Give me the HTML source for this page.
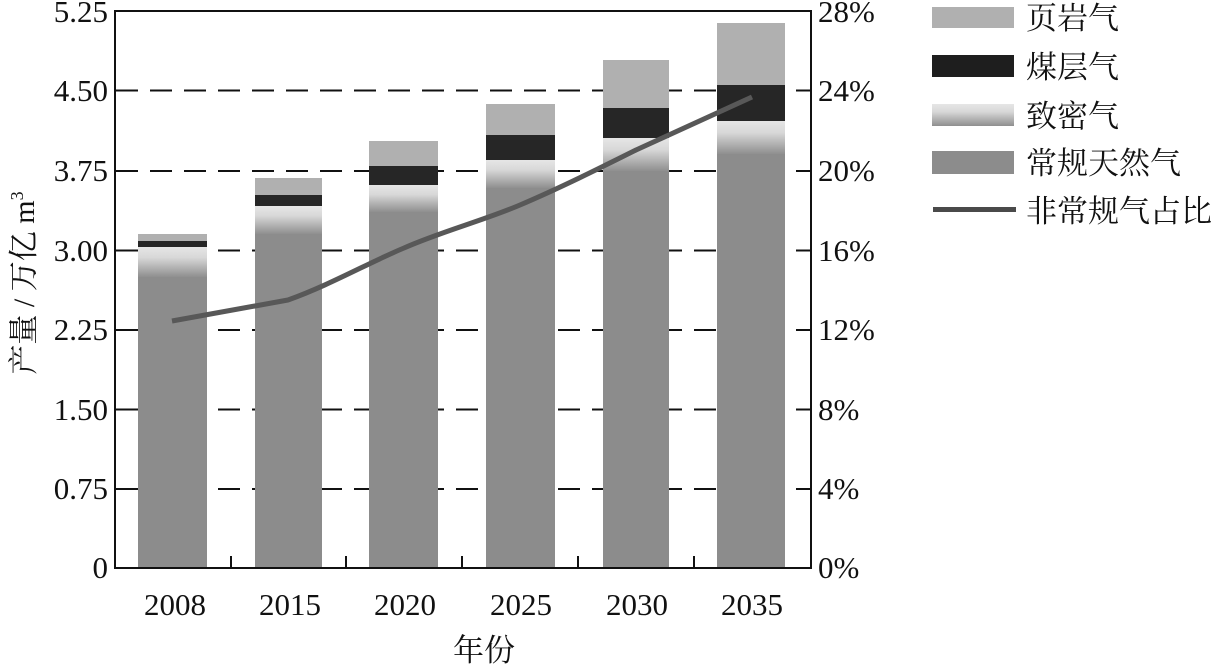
<!DOCTYPE html>
<html><head><meta charset="utf-8"><style>
html,body{margin:0;padding:0;background:#fff}
svg{display:block}
text{font-family:"Liberation Serif","Noto Serif CJK SC","Noto Sans CJK SC",serif;fill:#111}
</style></head><body>
<svg width="1217" height="665" viewBox="0 0 1217 665" xmlns="http://www.w3.org/2000/svg">
<defs>
<linearGradient id="tg" x1="0" y1="0" x2="0" y2="1">
<stop offset="0" stop-color="#e6e6e6"/><stop offset="0.35" stop-color="#d8d8d8"/><stop offset="1" stop-color="#8f8f8f"/>
</linearGradient>
</defs>
<g stroke="#111" stroke-width="2" stroke-dasharray="22,12">
<line x1="116" y1="90.5" x2="811" y2="90.5"/>
<line x1="116" y1="171" x2="811" y2="171"/>
<line x1="116" y1="250.5" x2="811" y2="250.5"/>
<line x1="116" y1="330" x2="811" y2="330"/>
<line x1="116" y1="409.5" x2="811" y2="409.5"/>
<line x1="116" y1="489" x2="811" y2="489"/>
</g>
<g>
<rect x="138" y="247" width="69" height="321" fill="#8c8c8c"/>
<rect x="138" y="247" width="69" height="30" fill="url(#tg)"/>
<rect x="138" y="241" width="69" height="6" fill="#262626"/>
<rect x="138" y="234" width="69" height="7" fill="#b0b0b0"/>
<rect x="255" y="206" width="67" height="362" fill="#8c8c8c"/>
<rect x="255" y="206" width="67" height="28" fill="url(#tg)"/>
<rect x="255" y="195" width="67" height="11" fill="#262626"/>
<rect x="255" y="178" width="67" height="17" fill="#b0b0b0"/>
<rect x="369" y="185" width="69" height="383" fill="#8c8c8c"/>
<rect x="369" y="185" width="69" height="27" fill="url(#tg)"/>
<rect x="369" y="166" width="69" height="19" fill="#262626"/>
<rect x="369" y="141" width="69" height="25" fill="#b0b0b0"/>
<rect x="486" y="160" width="69" height="408" fill="#8c8c8c"/>
<rect x="486" y="160" width="69" height="28" fill="url(#tg)"/>
<rect x="486" y="135" width="69" height="25" fill="#262626"/>
<rect x="486" y="104" width="69" height="31" fill="#b0b0b0"/>
<rect x="603" y="138" width="66" height="430" fill="#8c8c8c"/>
<rect x="603" y="138" width="66" height="33" fill="url(#tg)"/>
<rect x="603" y="108" width="66" height="30" fill="#262626"/>
<rect x="603" y="60" width="66" height="48" fill="#b0b0b0"/>
<rect x="717" y="121" width="68" height="447" fill="#8c8c8c"/>
<rect x="717" y="121" width="68" height="33" fill="url(#tg)"/>
<rect x="717" y="85" width="68" height="36" fill="#262626"/>
<rect x="717" y="23" width="68" height="62" fill="#b0b0b0"/>
</g>
<path d="M172,321 L288,300 C330,285 370,262 404,248 C440,232 485,220 520,205 C560,188 600,168 636,150 C680,130 720,112 752,97" fill="none" stroke="#585858" stroke-width="5" stroke-linejoin="round"/>
<rect x="115" y="11" width="696" height="557" fill="none" stroke="#111" stroke-width="2"/>
<g stroke="#111" stroke-width="2">
<line x1="231" y1="568" x2="231" y2="556"/>
<line x1="346" y1="568" x2="346" y2="556"/>
<line x1="462" y1="568" x2="462" y2="556"/>
<line x1="578" y1="568" x2="578" y2="556"/>
<line x1="694" y1="568" x2="694" y2="556"/>
</g>
<g font-size="31" text-anchor="end">
<text x="108" y="22">5.25</text>
<text x="108" y="101">4.50</text>
<text x="108" y="181">3.75</text>
<text x="108" y="261">3.00</text>
<text x="108" y="340">2.25</text>
<text x="108" y="420">1.50</text>
<text x="108" y="499">0.75</text>
<text x="108" y="578">0</text>
</g>
<g font-size="31" text-anchor="start">
<text x="818" y="22">28%</text>
<text x="818" y="101">24%</text>
<text x="818" y="181">20%</text>
<text x="818" y="261">16%</text>
<text x="818" y="340">12%</text>
<text x="818" y="420">8%</text>
<text x="818" y="499">4%</text>
<text x="818" y="578">0%</text>
</g>
<g font-size="31" text-anchor="middle">
<text x="175" y="615">2008</text>
<text x="290" y="615">2015</text>
<text x="405" y="615">2020</text>
<text x="521" y="615">2025</text>
<text x="637" y="615">2030</text>
<text x="752" y="615">2035</text>
<text x="484" y="661">年份</text>
</g>
<text font-size="30" text-anchor="middle" transform="translate(34,283) rotate(-90)">产量 / 万亿 m<tspan font-size="18" dy="-11">3</tspan></text>
<rect x="932" y="7" width="82" height="21" fill="#b0b0b0"/>
<rect x="932" y="55" width="82" height="22" fill="#1e1e1e"/>
<rect x="932" y="104" width="82" height="22" fill="url(#tg)"/>
<rect x="932" y="151" width="82" height="23" fill="#8c8c8c"/>
<rect x="933" y="207" width="83" height="5" fill="#4a4a4a"/>
<g font-size="31">
<text x="1026" y="29">页岩气</text>
<text x="1026" y="78">煤层气</text>
<text x="1026" y="127">致密气</text>
<text x="1026" y="174">常规天然气</text>
<text x="1026" y="222">非常规气占比</text>
</g>
</svg>
</body></html>
